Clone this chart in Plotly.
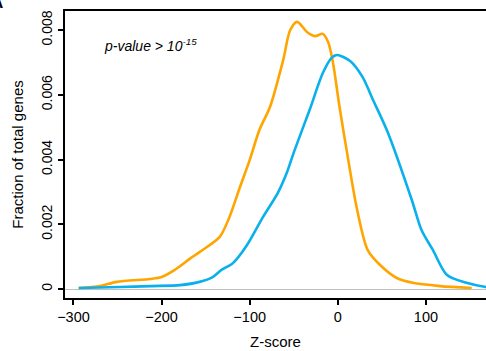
import plotly.graph_objects as go

# Orange series (Z-score, fraction of total genes)
orange_x = [-294, -270, -251, -213, -200, -185, -168, -157, -134, -123, -111, -100, -89, -77,
            -62, -54, -46, -35, -26, -17, -11, -6, 2, 10, 22, 34, 48, 67, 85, 116, 152]
orange_y = [0.00003, 0.00009, 0.00022, 0.00031, 0.00037, 0.00059, 0.00093, 0.00114, 0.00161,
            0.00222, 0.00315, 0.00398, 0.00491, 0.00562, 0.00707, 0.00800, 0.00825, 0.00794,
            0.00781, 0.00788, 0.00763, 0.00707, 0.00562, 0.00429, 0.00244, 0.00120, 0.00074,
            0.00034, 0.00019, 0.00009, 0.00003]

# Blue series
blue_x = [-294, -247, -213, -179, -157, -142, -132, -119, -103, -85, -68, -58, -49, -32, -17,
          -7, -1, 14, 28, 40, 57, 84, 95, 108, 124, 146, 168, 180]
blue_y = [0.00003, 0.00006, 0.00009, 0.00012, 0.00022, 0.00037, 0.00059, 0.00080, 0.00136,
          0.00222, 0.00297, 0.00358, 0.00429, 0.00553, 0.00667, 0.00714, 0.00723, 0.00704,
          0.00655, 0.00584, 0.00482, 0.00275, 0.00182, 0.00120, 0.00043, 0.00019, 0.00006,
          0.00003]

x_ticks = [-300, -200, -100, 0, 100]
y_ticks = [0, 0.002, 0.004, 0.006, 0.008]
y_tick_labels = ["0", "0.002", "0.004", "0.006", "0.008"]

FONT = "Liberation Sans, Arial, Helvetica, sans-serif"

fig = go.Figure()
fig.add_trace(go.Scatter(x=orange_x, y=orange_y, mode="lines",
                         line=dict(color="#FFA500", width=2.6, shape="spline", smoothing=0.8),
                         showlegend=False, hoverinfo="skip"))
fig.add_trace(go.Scatter(x=blue_x, y=blue_y, mode="lines",
                         line=dict(color="#0AB0EC", width=2.6, shape="spline", smoothing=0.8),
                         showlegend=False, hoverinfo="skip"))

fig.add_annotation(x=-268, y=0.00754, xref="x", yref="y", xanchor="left", yanchor="middle",
                   text="<i>p-value > 10<sup>-15</sup></i>", showarrow=False,
                   font=dict(family=FONT, size=14, color="black"))

fig.add_annotation(x=-60 / 421, y=1 + 9 / 287, xref="paper", yref="paper", xanchor="right",
                   yanchor="middle", text="<b>A</b>", showarrow=False,
                   font=dict(family=FONT, size=17, color="black"))

fig.update_layout(
    width=486, height=351,
    margin=dict(l=65, r=0, t=11, b=53),
    plot_bgcolor="white", paper_bgcolor="white",
    font=dict(family=FONT, color="black"),
    xaxis=dict(range=[-309.6, 168.2], tickvals=x_ticks, ticks="outside", ticklen=5, tickwidth=1.5,
               tickcolor="black", showline=True, linecolor="black", linewidth=2, mirror=True,
               showgrid=False, zeroline=False, tickfont=dict(size=14.5), automargin=False,
               title=dict(text="Z-score", font=dict(size=15), standoff=12)),
    yaxis=dict(range=[-0.000278, 0.008587], tickvals=y_ticks, ticktext=y_tick_labels,
               tickangle=-90, ticks="outside", ticklen=5, tickwidth=1.5, tickcolor="black",
               showline=True, linecolor="black", linewidth=2, showgrid=False,
               zeroline=True, zerolinecolor="#c0c0c0", zerolinewidth=1, automargin=False,
               tickfont=dict(size=14),
               title=dict(text="Fraction of total genes", font=dict(size=15), standoff=12)),
)

fig.write_html("out.html", config={"displayModeBar": False},
               post_script="document.body.style.margin='0';")
